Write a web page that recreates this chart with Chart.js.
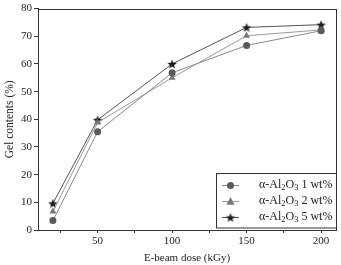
<!DOCTYPE html>
<html><head><meta charset="utf-8">
<script src="https://cdn.jsdelivr.net/npm/chart.js@4"></script>
<style>html,body{margin:0;padding:0;background:#fff}#wrap{width:341px;height:265px}</style>
</head><body><div id="wrap"><canvas id="c" width="341" height="265"></canvas></div>
<script>
const doses = [20, 50, 100, 150, 200];
const gel1 = [3.4, 35.5, 56.8, 66.7, 72.0];
const gel2 = [6.7, 38.8, 55.0, 70.2, 72.3];
const gel5 = [9.6, 39.8, 60.0, 73.2, 74.2];
const seriesNames = ['1 wt%', '2 wt%', '5 wt%'];
const xTicks = [25, 50, 75, 100, 125, 150, 175, 200];
const xLabeled = [50, 100, 150, 200];

function starCanvas(color, r) {
  const s = Math.ceil(r * 2 + 2);
  const cv = document.createElement('canvas');
  cv.width = s; cv.height = s;
  const ctx = cv.getContext('2d');
  ctx.fillStyle = color;
  ctx.beginPath();
  for (let i = 0; i < 10; i++) {
    const rr = i % 2 === 0 ? r : r * 0.42;
    const a = -Math.PI / 2 + i * Math.PI / 5;
    const x = s / 2 + rr * Math.cos(a), y = s / 2 + rr * Math.sin(a) + 0.5;
    i === 0 ? ctx.moveTo(x, y) : ctx.lineTo(x, y);
  }
  ctx.closePath(); ctx.fill();
  return cv;
}
const star = starCanvas('#1e1e1e', 5);

const FONT = 'Liberation Serif';
const mk = (vals) => doses.map((d, i) => ({x: d, y: vals[i]}));

const frame = {
  id: 'frame',
  afterDraw(chart) {
    const {ctx, chartArea: a} = chart;
    ctx.save();
    ctx.strokeStyle = '#333'; ctx.lineWidth = 1;
    ctx.strokeRect(Math.round(a.left) + 0.5, Math.round(a.top) + 0.5, Math.round(a.right - a.left), Math.round(a.bottom - a.top));
    // legend box
    const bx = 216.5, by = 173.5, bw = 120, bh = 54.5;
    ctx.fillStyle = '#fff';
    ctx.fillRect(bx, by, bw, bh);
    ctx.strokeRect(bx, by, bw, bh);
    chart.data.datasets.forEach((ds, i) => {
      const yy = 185 + i * 16;
      ctx.strokeStyle = ds.borderColor; ctx.lineWidth = 1;
      ctx.beginPath(); ctx.moveTo(222, yy + 0.5); ctx.lineTo(239, yy + 0.5); ctx.stroke();
      if (ds.pointStyle === star) {
        Chart.helpers.drawPoint(ctx, {pointStyle: ds.pointStyle, radius: ds.pointRadius, rotation: 0, borderWidth: 0}, 230.5, yy + 0.5);
      } else {
        ctx.fillStyle = ds.pointBackgroundColor;
        ctx.beginPath();
        if (ds.pointStyle === 'circle') { ctx.arc(230.5, yy + 0.5, ds.pointRadius, 0, Math.PI * 2); }
        else { const r = ds.pointRadius; ctx.moveTo(230.5, yy + 0.5 - r * 1.1); ctx.lineTo(230.5 + r, yy + 0.5 + r * 0.8); ctx.lineTo(230.5 - r, yy + 0.5 + r * 0.8); ctx.closePath(); }
        ctx.fill();
      }
      // text with subscripts
      ctx.fillStyle = '#222'; ctx.textBaseline = 'middle'; ctx.textAlign = 'left';
      let x = 259;
      const parts = [['α-Al', 12, 0], ['2', 8.5, 3], ['O', 12, 0], ['3', 8.5, 3], [' ' + seriesNames[i], 12, 0]];
      parts.forEach(([t, sz, dy]) => {
        ctx.font = sz + 'px "' + FONT + '"';
        ctx.fillText(t, x, yy + dy);
        x += ctx.measureText(t).width;
      });
    });
    ctx.restore();
  }
};

new Chart(document.getElementById('c'), {
  type: 'line',
  data: {
    datasets: [
      {label: 'α-Al2O3 ' + seriesNames[0], data: mk(gel1), borderColor: '#8a8a8a', borderWidth: 1, pointStyle: 'circle', pointRadius: 3.5, pointBackgroundColor: '#5a5a5a', pointBorderColor: '#5a5a5a', pointBorderWidth: 0},
      {label: 'α-Al2O3 ' + seriesNames[1], data: mk(gel2), borderColor: '#9a9a9a', borderWidth: 1, pointStyle: 'triangle', pointRadius: 4, pointBackgroundColor: '#777', pointBorderColor: '#777', pointBorderWidth: 0},
      {label: 'α-Al2O3 ' + seriesNames[2], data: mk(gel5), borderColor: '#555', borderWidth: 1, pointStyle: star, pointRadius: 5, pointBackgroundColor: '#1e1e1e', pointBorderColor: '#1e1e1e', pointBorderWidth: 0}
    ]
  },
  options: {
    responsive: false, animation: false,
    layout: {padding: {top: 5, right: 1, left: 0, bottom: 0}},
    plugins: {legend: {display: false}, tooltip: {enabled: false}},
    scales: {
      x: {
        type: 'linear', min: 10, max: 210,
        afterBuildTicks: s => { s.ticks = xTicks.map(v => ({value: v})); },
        afterFit: s => { s.height = 35; },
        grid: {drawOnChartArea: false, drawTicks: true, tickLength: 3, color: '#333'},
        border: {color: '#333'},
        ticks: {autoSkip: false, maxRotation: 0, padding: 2, color: '#222', font: {family: FONT, size: 11},
          callback: v => xLabeled.includes(v) ? String(v) : ''},
        title: {display: true, text: 'E-beam dose (kGy)', color: '#222', font: {family: FONT, size: 11}, padding: {top: 2, bottom: 0}}
      },
      y: {
        min: 0, max: 80,
        afterFit: s => { s.width = 38; },
        grid: {drawOnChartArea: false, drawTicks: true, tickLength: 4, color: '#333'},
        border: {color: '#333'},
        ticks: {stepSize: 10, padding: 2, color: '#222', font: {family: FONT, size: 11}},
        title: {display: true, text: 'Gel contents (%)', color: '#222', font: {family: FONT, size: 11.5}, padding: {top: 3, bottom: 0}}
      }
    }
  },
  plugins: [frame]
});
</script></body></html>
